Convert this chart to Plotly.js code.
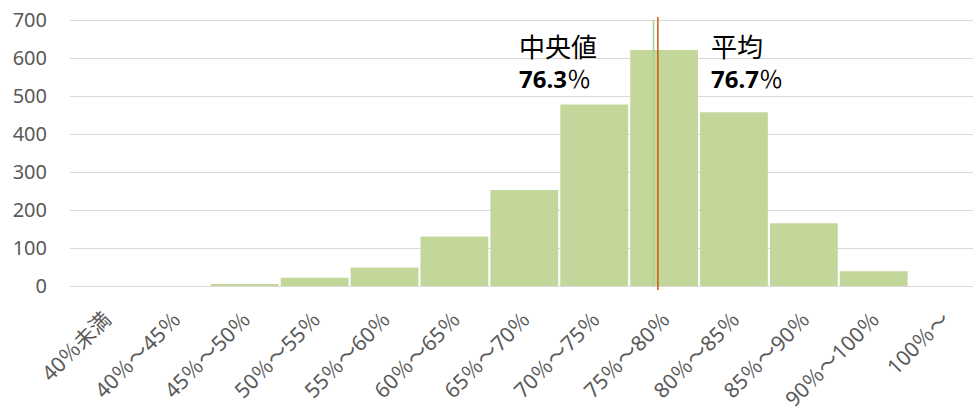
<!DOCTYPE html>
<html>
<head>
<meta charset="utf-8">
<script src="https://cdn.plot.ly/plotly-3.0.1.min.js"></script>
<style>html,body{margin:0;padding:0;background:#fff;}#chart{width:973px;height:411px;}</style>
</head>
<body>
<div id="chart"></div>
<script>
// Data
const categories = ["40％未満", "40％～45％", "45％～50％", "50％～55％", "55％～60％", "60％～65％",
  "65％～70％", "70％～75％", "75％～80％", "80％～85％", "85％～90％", "90％～100％", "100％～"];
const counts = [0, 0, 5, 22, 49, 130, 253, 478, 621, 457, 165, 39, 0];
const yTicks = [0, 100, 200, 300, 400, 500, 600, 700];
const median = 76.3;
const mean = 76.7;
const medianLabel = "中央値";
const meanLabel = "平均";

const FONT = '"Noto Sans", "Noto Sans CJK JP", sans-serif';
const CJK = '"Noto Sans CJK JP", "Noto Sans", sans-serif';

const traces = [
  {
    type: 'bar', x: categories, y: counts,
    marker: {color: '#C4D79B', line: {width: 0}},
    hoverinfo: 'x+y', showlegend: false
  },
  {
    type: 'scatter', mode: 'lines', xaxis: 'x2', yaxis: 'y',
    x: [median, median], y: [0, 700],
    line: {color: '#A9D08E', width: 1.5}, showlegend: false, hoverinfo: 'skip'
  },
  {
    type: 'scatter', mode: 'lines', xaxis: 'x2', yaxis: 'y',
    x: [mean, mean], y: [-10.5, 708],
    line: {color: '#C55A11', width: 1.5}, showlegend: false, hoverinfo: 'skip'
  }
];

const layout = {
  width: 973, height: 411,
  margin: {l: 70, r: 0, t: 17, b: 121, pad: 0},
  paper_bgcolor: '#ffffff', plot_bgcolor: '#ffffff',
  font: {family: FONT, color: '#595959', size: 17},
  bargap: 0.03,
  xaxis: {
    type: 'category', range: [-0.5, 12.42],
    tickangle: -45, tickfont: {family: FONT, size: 21, color: '#595959'},
    showgrid: false, zeroline: false, showline: false, ticks: '',
    ticklabelstandoff: 12, automargin: false, fixedrange: true
  },
  xaxis2: {
    overlaying: 'x', type: 'linear', range: [23.23, 105.36],
    visible: false, showgrid: false, zeroline: false, fixedrange: true
  },
  yaxis: {
    range: [-10.5, 708], tickvals: yTicks, ticktext: yTicks.map(String),
    tickfont: {family: FONT, size: 20, color: '#595959'},
    showgrid: true, gridcolor: '#D9D9D9', gridwidth: 1,
    zeroline: true, zerolinecolor: '#D9D9D9', zerolinewidth: 1,
    showline: false, ticks: 'outside', ticklen: 18, tickcolor: 'rgba(0,0,0,0)',
    automargin: false, fixedrange: true
  },
  annotations: [
    {xref: 'paper', yref: 'paper', x: 0.495, y: 0.897, xanchor: 'left', yanchor: 'middle',
     text: medianLabel, showarrow: false, font: {family: CJK, size: 26, color: '#000000'}},
    {xref: 'paper', yref: 'paper', x: 0.495, y: 0.776, xanchor: 'left', yanchor: 'middle',
     text: '<b>' + median.toFixed(1) + '</b>％', showarrow: false, font: {family: FONT, size: 24, color: '#000000'}},
    {xref: 'paper', yref: 'paper', x: 0.708, y: 0.897, xanchor: 'left', yanchor: 'middle',
     text: meanLabel, showarrow: false, font: {family: CJK, size: 26, color: '#000000'}},
    {xref: 'paper', yref: 'paper', x: 0.708, y: 0.776, xanchor: 'left', yanchor: 'middle',
     text: '<b>' + mean.toFixed(1) + '</b>％', showarrow: false, font: {family: FONT, size: 24, color: '#000000'}}
  ]
};

Plotly.newPlot('chart', traces, layout, {displayModeBar: false, staticPlot: true});
</script>
</body>
</html>
